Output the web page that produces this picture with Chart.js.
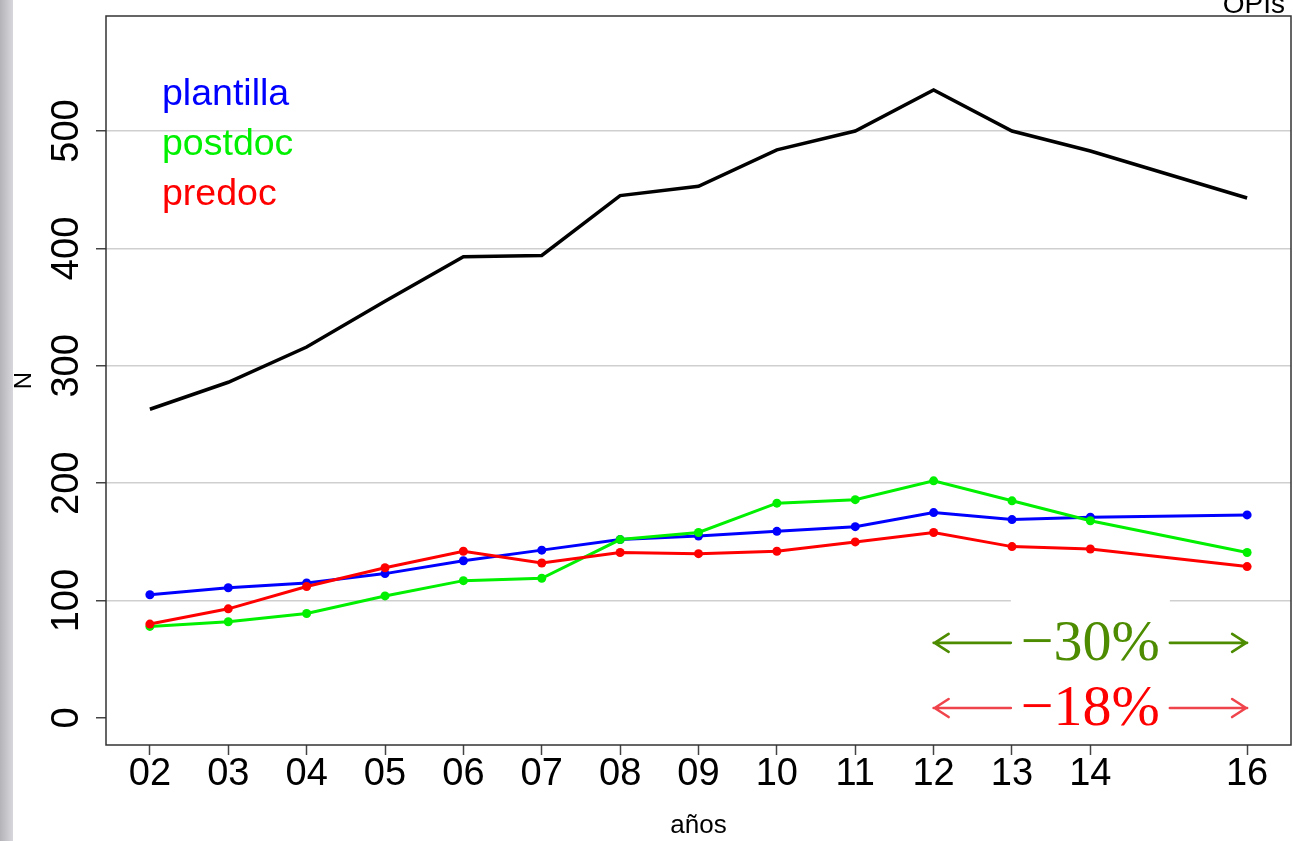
<!DOCTYPE html>
<html>
<head>
<meta charset="utf-8">
<script src="https://cdn.jsdelivr.net/npm/chart.js@4.4.1/dist/chart.umd.min.js"></script>
<style>
    html, body { margin: 0; padding: 0; background: #fff; }
    #wrap { position: relative; width: 1312px; height: 841px; }
    #chart { position: absolute; left: 0; top: 0; }
    #bar { position: absolute; left: 0; top: 0; width: 13px; height: 841px;
           background: linear-gradient(to right, #b4b4b8, #d8d8dc); }
</style>
</head>
<body>
<div id="wrap">
    <canvas id="chart" width="1312" height="841"></canvas>
    <div id="bar"></div>
</div>
<script>
// valeurs
const years = [2, 3, 4, 5, 6, 7, 8, 9, 10, 11, 12, 13, 14, 16];
const total = [263, 286, 316, 355, 393, 394, 445, 453, 484, 500, 535, 500, 483, 443];
const plantilla = [105, 111, 115, 123, 134, 143, 152, 155, 159, 163, 175, 169, 171, 173];
const postdoc = [78, 82, 89, 104, 117, 119, 152, 158, 183, 186, 202, 185, 168, 141];
const predoc = [80, 93, 112, 128, 142, 132, 141, 140, 142, 150, 158, 146, 144, 129];
const yTicks = [0, 100, 200, 300, 400, 500];
const seriesNames = ['plantilla', 'postdoc', 'predoc'];
const seriesColors = ['#0000ff', '#00f000', '#ff0000'];

// flèches de variation 2012 -> 2016
const changeLabels = ['\u221230%', '\u221218%'];
const changeYears = [12, 16];
const changeLevels = [64, 8.5];
const changeColors = ['#4d8b00', '#ff0000'];
const arrowColors = ['#4d8b00', '#f0444c'];

const toPoints = vals => years.map((x, i) => ({ x: x, y: vals[i] }));

const boxPlugin = {
    id: 'box',
    beforeDatasetsDraw(chart) {
        const { ctx, scales: { x, y } } = chart;
        ctx.save();
        changeLabels.forEach((label, i) => {
            ctx.font = '58px "Liberation Serif", serif';
            const x0 = x.getPixelForValue(changeYears[0]);
            const x1 = x.getPixelForValue(changeYears[1]);
            const xc = x.getPixelForValue((changeYears[0] + changeYears[1]) / 2);
            const yc = y.getPixelForValue(changeLevels[i]);
            const w = ctx.measureText(label).width;
            const gl = xc - w / 2 - 10, gr = xc + w / 2 + 10;
            // fond blanc derrière le texte
            ctx.fillStyle = '#fff';
            ctx.fillRect(gl, yc - 45, gr - gl, 78);
            ctx.fillStyle = changeColors[i];
            ctx.textAlign = 'center';
            ctx.textBaseline = 'alphabetic';
            ctx.fillText(label, xc, yc + 17);
            ctx.strokeStyle = arrowColors[i];
            ctx.lineWidth = 2.6;
            ctx.lineCap = 'round';
            ctx.lineJoin = 'round';
            ctx.beginPath();
            ctx.moveTo(x0, yc); ctx.lineTo(gl, yc);
            ctx.moveTo(gr, yc); ctx.lineTo(x1, yc);
            ctx.moveTo(x0 + 15, yc - 9); ctx.lineTo(x0 + 1, yc); ctx.lineTo(x0 + 15, yc + 9);
            ctx.moveTo(x1 - 15, yc - 9); ctx.lineTo(x1 - 1, yc); ctx.lineTo(x1 - 15, yc + 9);
            ctx.stroke();
        });
        ctx.restore();
    },
    afterDraw(chart) {
        const { ctx, chartArea: a } = chart;
        ctx.save();
        ctx.strokeStyle = '#333';
        ctx.lineWidth = 1.5;
        ctx.strokeRect(a.left, a.top, a.right - a.left, a.bottom - a.top);
        // légende
        ctx.font = '37.5px "Liberation Sans", Arial, sans-serif';
        ctx.textAlign = 'left';
        ctx.textBaseline = 'alphabetic';
        seriesNames.forEach((name, i) => {
            ctx.fillStyle = seriesColors[i];
            ctx.fillText(name, a.left + 56, a.top + 89 + i * 50);
        });
        // titre coupé en haut à droite
        ctx.fillStyle = '#000';
        ctx.font = '28px "Liberation Sans", Arial, sans-serif';
        ctx.textAlign = 'right';
        ctx.fillText('OPIs', a.right - 6, 13);
        ctx.restore();
    }
};

const ctx = document.getElementById('chart');
new Chart(ctx.getContext('2d'), {
    type: 'line',
    data: {
        datasets: [
            {
                label: 'total',
                data: toPoints(total),
                borderColor: '#000',
                borderWidth: 3.5,
                pointRadius: 0,
                order: 4
            },
            {
                label: seriesNames[0],
                data: toPoints(plantilla),
                borderColor: seriesColors[0],
                backgroundColor: seriesColors[0],
                borderWidth: 3,
                pointRadius: 4.5,
                pointBorderWidth: 0,
                order: 3
            },
            {
                label: seriesNames[1],
                data: toPoints(postdoc),
                borderColor: seriesColors[1],
                backgroundColor: seriesColors[1],
                borderWidth: 3,
                pointRadius: 4.5,
                pointBorderWidth: 0,
                order: 2
            },
            {
                label: seriesNames[2],
                data: toPoints(predoc),
                borderColor: seriesColors[2],
                backgroundColor: seriesColors[2],
                borderWidth: 3,
                pointRadius: 4.5,
                pointBorderWidth: 0,
                order: 1
            }
        ]
    },
    options: {
        responsive: false,
        animation: false,
        devicePixelRatio: 1,
        layout: {
            padding: { left: 0, right: 21, top: 16, bottom: 0 }
        },
        plugins: {
            legend: { display: false },
            tooltip: { enabled: false }
        },
        scales: {
            x: {
                type: 'linear',
                min: 1.44,
                max: 16.56,
                afterBuildTicks: scale => {
                    scale.ticks = years.map(v => ({ value: v }));
                },
                afterFit: scale => {
                    scale.height = 96;
                    scale.paddingLeft = 0;
                    scale.paddingRight = 0;
                },
                border: { display: false },
                grid: {
                    drawOnChartArea: false,
                    drawTicks: true,
                    tickLength: 10,
                    tickColor: '#444',
                    tickWidth: 1.5
                },
                ticks: {
                    autoSkip: false,
                    maxRotation: 0,
                    padding: -3,
                    color: '#000',
                    font: { family: '"Liberation Sans", Arial, sans-serif', size: 38 },
                    callback: v => (v < 10 ? '0' : '') + v
                },
                title: {
                    display: true,
                    text: 'años',
                    color: '#000',
                    padding: { top: 0, bottom: 0 },
                    font: { family: '"Liberation Sans", Arial, sans-serif', size: 26 }
                }
            },
            y: {
                min: -23,
                max: 598,
                afterBuildTicks: scale => {
                    scale.ticks = yTicks.map(v => ({ value: v }));
                },
                afterFit: scale => {
                    scale.width = 106;
                    scale.paddingTop = 0;
                    scale.paddingBottom = 0;
                },
                border: { display: false },
                grid: {
                    color: c => (c.tick && c.tick.value === 0) ? 'rgba(0,0,0,0)' : '#cfcfcf',
                    lineWidth: 1.5,
                    drawTicks: true,
                    tickLength: 10,
                    tickColor: '#444',
                    tickWidth: 1.5
                },
                ticks: {
                    minRotation: 90,
                    maxRotation: 90,
                    crossAlign: 'center',
                    padding: -3,
                    color: '#000',
                    font: { family: '"Liberation Sans", Arial, sans-serif', size: 38 }
                },
                title: {
                    display: true,
                    text: 'N',
                    color: '#000',
                    padding: { top: 10, bottom: 0 },
                    font: { family: '"Liberation Sans", Arial, sans-serif', size: 24 }
                }
            }
        }
    },
    plugins: [boxPlugin]
});
</script>
</body>
</html>
